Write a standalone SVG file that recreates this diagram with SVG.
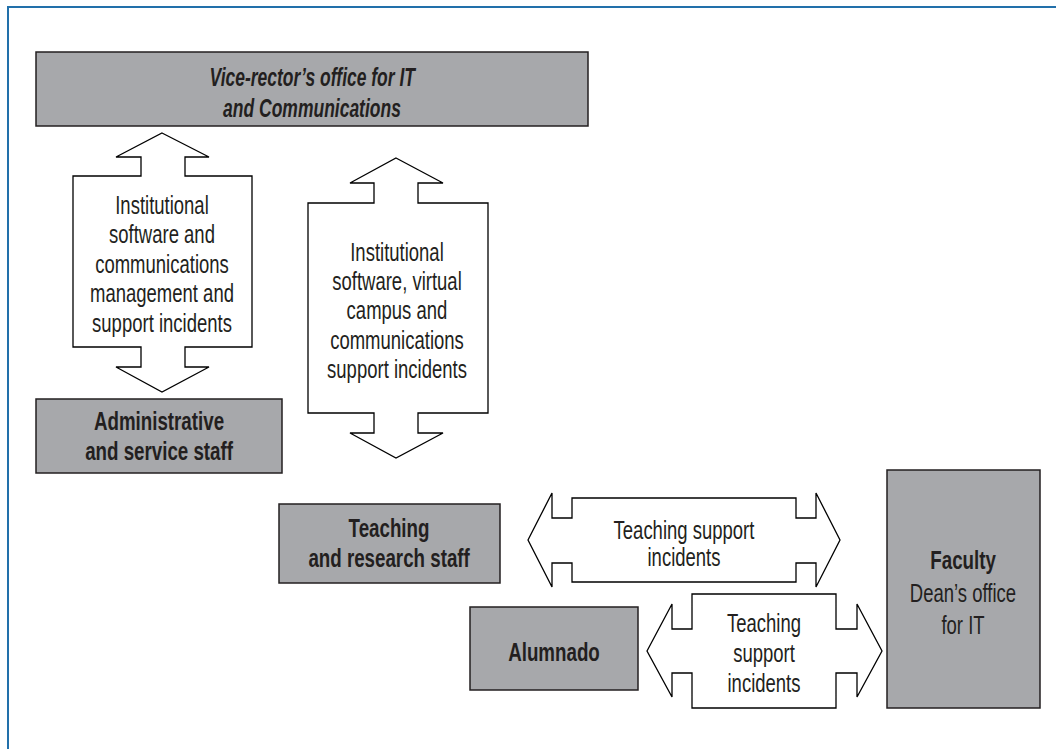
<svg xmlns="http://www.w3.org/2000/svg" width="1056" height="749" viewBox="0 0 1056 749">
<style>
.box{fill:#a7a8ab;stroke:#231f20;stroke-width:1.5}
.arr{fill:#fff;stroke:#000;stroke-width:1.3;stroke-linejoin:miter}
text{font-family:"Liberation Sans Narrow","Liberation Sans",Arial,sans-serif;fill:#231f20;text-anchor:middle;transform-box:fill-box;transform-origin:center;font-size:25px}
.t{transform:scaleX(0.74)}
.b{font-weight:bold;transform:scaleX(0.75)}
.bi{font-weight:bold;font-style:italic;transform:scaleX(0.7)}
</style>
<rect x="0" y="0" width="1056" height="749" fill="#fff"/>
<path d="M8,749 V7 H1056" fill="none" stroke="#2270aa" stroke-width="2"/>
<g id="connectors">
<path class="arr" d="M162,133 L209,157 L185,157 L185,176 L252,176 L252,347 L185,347 L185,367 L209,367 L162,392 L116,367 L141,367 L141,347 L73,347 L73,176 L141,176 L141,157 L116,157 Z"/>
<path class="arr" d="M396,158 L443,183 L418,183 L418,203 L488,203 L488,413 L418,413 L418,433 L443,433 L396,458 L350,433 L374,433 L374,413 L308,413 L308,203 L374,203 L374,183 L350,183 Z"/>
<path class="arr" d="M528,540 L552,493 L552,518 L572,518 L572,498 L796,498 L796,518 L816,518 L816,493 L840,540 L816,587 L816,563 L796,563 L796,582 L572,582 L572,563 L552,563 L552,587 Z"/>
<path class="arr" d="M647,651 L672,604 L672,629 L692,629 L692,594 L836,594 L836,629 L857,629 L857,604 L882,651 L857,697 L857,673 L836,673 L836,708 L692,708 L692,673 L672,673 L672,697 Z"/>
<text class="t" x="162" y="214">Institutional</text>
<text class="t" x="162" y="243">software and</text>
<text class="t" x="162" y="273">communications</text>
<text class="t" x="162" y="302">management and</text>
<text class="t" x="162" y="332">support incidents</text>
<text class="t" x="397" y="261">Institutional</text>
<text class="t" x="397" y="290">software, virtual</text>
<text class="t" x="397" y="319">campus and</text>
<text class="t" x="397" y="349">communications</text>
<text class="t" x="397" y="378">support incidents</text>
<text class="t" x="684" y="539">Teaching support</text>
<text class="t" x="684" y="566">incidents</text>
<text class="t" x="764" y="632">Teaching</text>
<text class="t" x="764" y="662">support</text>
<text class="t" x="764" y="692">incidents</text>
</g>
<g id="vicerector">
<rect class="box" x="36" y="52" width="552" height="74"/>
<text class="bi" x="312" y="86">Vice-rector’s office for IT</text>
<text class="bi" x="312" y="117">and Communications</text>
</g>
<g id="admin">
<rect class="box" x="36" y="399" width="246" height="74"/>
<text class="b" x="159" y="430">Administrative</text>
<text class="b" x="159" y="460">and service staff</text>
</g>
<g id="teaching">
<rect class="box" x="279" y="504" width="221" height="79"/>
<text class="b" x="389" y="537">Teaching</text>
<text class="b" x="389" y="567">and research staff</text>
</g>
<g id="alumnado">
<rect class="box" x="470" y="607" width="168" height="83"/>
<text class="b" x="554" y="661">Alumnado</text>
</g>
<g id="faculty">
<rect class="box" x="887" y="470" width="153" height="238"/>
<text class="b" x="963" y="569">Faculty</text>
<text class="t" x="963" y="602">Dean’s office</text>
<text class="t" x="963" y="634">for IT</text>
</g>
</svg>
